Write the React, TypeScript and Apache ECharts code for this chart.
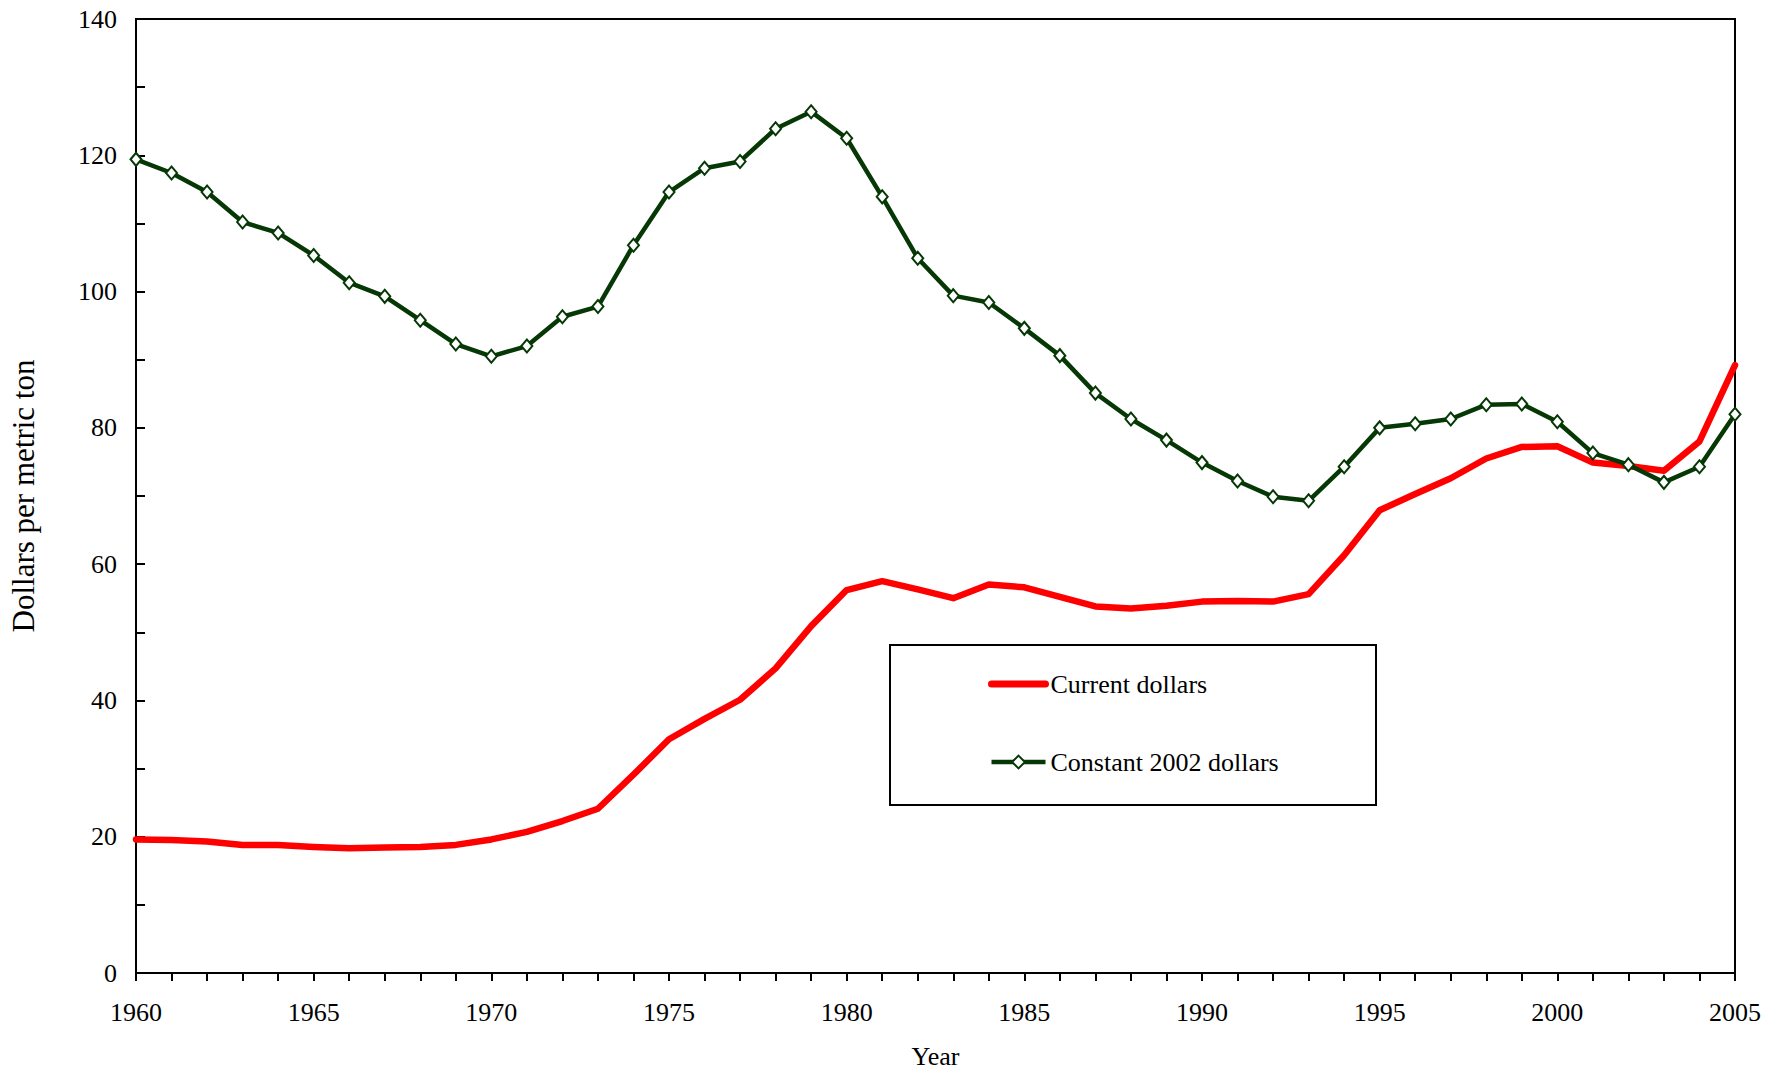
import React, { useEffect, useRef } from "react";
import * as echarts from "echarts";

const years: number[] = [
  1960, 1961, 1962, 1963, 1964, 1965, 1966, 1967, 1968, 1969,
  1970, 1971, 1972, 1973, 1974, 1975, 1976, 1977, 1978, 1979,
  1980, 1981, 1982, 1983, 1984, 1985, 1986, 1987, 1988, 1989,
  1990, 1991, 1992, 1993, 1994, 1995, 1996, 1997, 1998, 1999,
  2000, 2001, 2002, 2003, 2004, 2005,
];

const currentDollars: number[] = [
  19.6, 19.5, 19.3, 18.8, 18.8, 18.5, 18.3, 18.4, 18.5, 18.8,
  19.6, 20.7, 22.3, 24.1, 29.1, 34.3, 37.3, 40.1, 44.7, 50.9,
  56.2, 57.5, 56.3, 55.0, 57.0, 56.6, 55.2, 53.8, 53.5, 53.9,
  54.5, 54.6, 54.5, 55.6, 61.3, 67.9, 70.3, 72.6, 75.5, 77.2,
  77.3, 74.9, 74.4, 73.7, 78.0, 89.2,
];

const constant2002Dollars: number[] = [
  119.4, 117.4, 114.6, 110.2, 108.6, 105.3, 101.3, 99.3, 95.8, 92.3,
  90.5, 92.0, 96.3, 97.8, 106.8, 114.6, 118.1, 119.1, 123.9, 126.4,
  122.5, 113.9, 104.9, 99.4, 98.4, 94.6, 90.6, 85.1, 81.3, 78.2,
  74.9, 72.2, 69.9, 69.3, 74.3, 80.0, 80.6, 81.3, 83.4, 83.5,
  80.9, 76.3, 74.6, 72.0, 74.3, 82.0,
];

const seriesNames: string[] = ["Current dollars", "Constant 2002 dollars"];
const yAxisTitle = "Dollars per metric ton";
const xAxisTitle = "Year";

const FONT = "'Liberation Serif', 'Times New Roman', serif";
const RED = "#ff0000";
const GREEN = "#063806";

export default function App() {
  const ref = useRef<HTMLDivElement>(null);

  useEffect(() => {
    if (!ref.current) return;
    const chart = echarts.init(ref.current, null, { renderer: "svg" });
    const option: any = {
      animation: false,
      backgroundColor: "#ffffff",
      grid: {
        left: 136,
        top: 19,
        width: 1599,
        height: 954,
        show: true,
        borderColor: "#000",
        borderWidth: 2,
        backgroundColor: "transparent",
      },
      xAxis: {
        type: "value",
        min: 1960,
        max: 2005,
        interval: 5,
        name: xAxisTitle,
        nameLocation: "middle",
        nameGap: 70,
        nameTextStyle: { fontFamily: FONT, fontSize: 26, color: "#000" },
        axisLine: { show: true, lineStyle: { color: "#000", width: 2 } },
        axisTick: { show: true, inside: false, length: 8, lineStyle: { color: "#000", width: 2 } },
        minorTick: { show: true, splitNumber: 5, length: 8, lineStyle: { color: "#000", width: 2 } },
        axisLabel: { fontFamily: FONT, fontSize: 26, color: "#000", margin: 26, formatter: (v: number) => String(v) },
        splitLine: { show: false },
        minorSplitLine: { show: false },
      },
      yAxis: {
        type: "value",
        min: 0,
        max: 140,
        interval: 20,
        name: yAxisTitle,
        nameLocation: "middle",
        nameGap: 97,
        nameRotate: 90,
        nameTextStyle: { fontFamily: FONT, fontSize: 31, color: "#000" },
        axisLine: { show: true, lineStyle: { color: "#000", width: 2 } },
        axisTick: { show: true, inside: true, length: 9, lineStyle: { color: "#000", width: 2 } },
        minorTick: { show: true, splitNumber: 2, length: 9, lineStyle: { color: "#000", width: 2 } },
        axisLabel: { fontFamily: FONT, fontSize: 26, color: "#000", margin: 19 },
        splitLine: { show: false },
        minorSplitLine: { show: false },
      },
      legend: {
        orient: "vertical",
        left: 988,
        top: 671,
        padding: 0,
        itemWidth: 54,
        itemHeight: 16,
        itemGap: 52,
        selectedMode: false,
        data: [
          {
            name: seriesNames[0],
            itemStyle: { color: "rgba(0,0,0,0)", borderWidth: 0, opacity: 0 },
            lineStyle: { color: RED, width: 7, cap: "round" },
          },
          {
            name: seriesNames[1],
            itemStyle: { color: "#ffffff", borderColor: GREEN, borderWidth: 2 },
            lineStyle: { color: GREEN, width: 4.5 },
          },
        ],
        textStyle: { fontFamily: FONT, fontSize: 26, color: "#000" },
      },
      graphic: [
        {
          type: "rect",
          z: 0,
          shape: { x: 890, y: 645, width: 486, height: 160 },
          style: { fill: "transparent", stroke: "#000", lineWidth: 2 },
        },
      ],
      series: [
        {
          name: seriesNames[0],
          type: "line",
          data: years.map((y, i) => [y, currentDollars[i]]),
          symbol: "none",
          lineStyle: { color: RED, width: 6.5, cap: "round", join: "round" },
          itemStyle: { color: RED },
          z: 2,
        },
        {
          name: seriesNames[1],
          type: "line",
          data: years.map((y, i) => [y, constant2002Dollars[i]]),
          symbol: "diamond",
          symbolSize: [11, 13],
          showAllSymbol: true,
          lineStyle: { color: GREEN, width: 4.5, join: "round" },
          itemStyle: { color: "#ffffff", borderColor: GREEN, borderWidth: 2 },
          z: 3,
        },
      ],
    };
    chart.setOption(option);
    return () => chart.dispose();
  }, []);

  return (
    <div
      ref={ref}
      style={{ position: "absolute", left: 0, top: 0, width: 1775, height: 1078 }}
    />
  );
}
